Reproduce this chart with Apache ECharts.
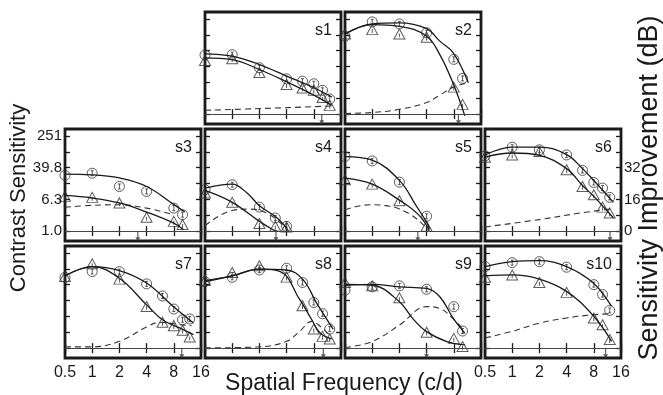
<!DOCTYPE html>
<html>
<head>
<meta charset="utf-8">
<script src="https://cdn.jsdelivr.net/npm/echarts@6/dist/echarts.min.js"></script>
<style>
html, body { margin: 0; background: #fff; }
#chart { width: 663px; height: 395px; }
</style>
</head>
<body>
<div id="chart"></div>
<script>
// panel names, reading order
const panels = ["s1", "s2", "s3", "s4", "s5", "s6", "s7", "s8", "s9", "s10"];

// tick positions / labels (dB re 1.0)
const dbTicks = [0, 8, 16, 24, 32, 40, 48];
const leftTickDb = [0, 16, 32, 48];
const leftTickText = ["1.0", "6.3", "39.8", "251"];
const rightTickDb = [0, 16, 32];

// measured points: [spatial freq c/d, dB]
const s1Circle = [[0.5, 29.8], [1, 30], [2, 23.4], [4, 17.8], [6, 16.6], [8, 15.3], [10, 12], [12, 7.6]];
const s1Tri = [[0.5, 27], [1, 27.9], [2, 21], [4, 14.9], [6, 13.2], [8, 12], [10, 8.4], [12, 4.4]];
const s2Circle = [[0.5, 39.3], [1, 46.5], [2, 45.5], [4, 41], [8, 27.6], [10, 18]];
const s2Tri = [[0.5, 40.4], [1, 42.6], [2, 40.4], [4, 38.8], [8, 13.6], [10, 4.9]];
const s3Circle = [[0.5, 28.1], [1, 29.2], [2, 22.5], [4, 20], [8, 11.6], [10, 8.3]];
const s3Tri = [[0.5, 17.5], [1, 17], [2, 14.2], [4, 7], [8, 4.9], [10, 3.3]];
const s4Circle = [[0.5, 20.9], [1, 23.4], [2, 12.1], [3, 6.6], [4, 2.4]];
const s4Tri = [[0.5, 19.2], [1, 14.5], [2, 3.8], [3, 2.4], [4, 2.1]];
const s5Circle = [[0.5, 37.6], [1, 35.4], [2, 24.7], [4, 7.5]];
const s5Tri = [[0.5, 25.9], [1, 23.7], [2, 15.3], [4, 2.4]];
const s6Circle = [[0.5, 37.9], [1, 42.3], [2, 41], [4, 38.4], [6, 30.6], [8, 24.5], [10, 21.7], [12, 17]];
const s6Tri = [[0.5, 37.3], [1, 38.4], [2, 40.1], [4, 30.9], [6, 22.5], [8, 18.3], [10, 12.1], [12, 9.1]];
const s7Circle = [[0.5, 35.7], [1, 38.6], [2, 38.6], [4, 32.4], [6, 26.3], [8, 19.7], [10, 14.3], [12, 14.7]];
const s7Tri = [[0.5, 36.1], [1, 42.5], [2, 34.8], [4, 21], [6, 13], [8, 11.3], [10, 9], [12, 5.6]];
const s8Circle = [[0.5, 33.5], [1, 35.7], [2, 39.4], [4, 40.3], [6, 33.1], [8, 23], [10, 17.3], [12, 9.6]];
const s8Tri = [[0.5, 34.1], [1, 38.1], [2, 41.5], [4, 35.8], [6, 21.4], [8, 9.6], [10, 5.9], [12, 4.6]];
const s9Circle = [[0.5, 29.2], [1, 30.9], [2, 31.4], [4, 29.7], [8, 20.9], [10, 8.6]];
const s9Tri = [[0.5, 33.1], [1, 31.4], [2, 25.4], [4, 8], [8, 4.9], [10, 0.8]];
const s10Circle = [[0.5, 41.1], [1, 43.1], [2, 43.6], [4, 40.8], [8, 32], [10, 27], [12, 19]];
const s10Tri = [[0.5, 35.7], [1, 36.9], [2, 33.1], [4, 28.1], [8, 15.2], [10, 11.8], [12, 4.3]];

// fitted curves
const s1Hi = [[0.5, 30.4], [1, 29.2], [2, 25], [4, 19.2], [8, 13.3], [12.7, 8.6]];
const s1Lo = [[0.5, 28.4], [1, 27.5], [2, 22.5], [4, 16.3], [8, 9.6], [12.7, 4.4]];
const s1Gain = [[0.5, 1.9], [2.4, 2.9], [13, 4.1]];
const s2Hi = [[0.5, 40.4], [1, 45.5], [2, 46], [4, 43.1], [5.6, 36.8], [7.9, 30.9], [11.6, 15.8]];
const s2Lo = [[0.5, 40.4], [1, 45.1], [2, 44.3], [4, 39.3], [5.6, 30], [7.9, 15.3], [10.6, -0.9]];
const s2Gain = [[0.5, 0.3], [1, 0.8], [2, 2.4], [4, 5.8], [5.6, 9.6], [7.9, 13.6], [11.6, 15.8]];
const s3Hi = [[0.5, 28.7], [1, 28.4], [2, 26.8], [4, 22.5], [7.9, 13.6], [10.6, 9.6]];
const s3Lo = [[0.5, 18], [1, 16.7], [2, 14.2], [4, 9.6], [7.9, 4.1], [10.2, 0.8]];
const s3Gain = [[0.5, 12], [1, 13], [2, 13.3], [4, 11.6], [7.4, 8.6]];
const s4Hi = [[0.5, 21.7], [1, 23.7], [1.46, 19.2], [2, 12.8], [3.05, 7.1], [4, 1.6]];
const s4Lo = [[0.5, 20.5], [1, 14.5], [2, 4.9], [2.8, 0.8], [3.2, -0.2]];
const s4Gain = [[0.5, 2.8], [1, 10.4], [1.57, 11.1], [2.4, 9.1], [3.7, 2.8], [4.2, 0]];
const s5Hi = [[0.5, 37.6], [1, 35.8], [2, 25.6], [3.05, 13], [4, 4.5], [4.3, 1.2]];
const s5Lo = [[0.5, 26.7], [1, 23.7], [2, 15.6], [3.25, 8.3], [4.3, 0.3]];
const s5Gain = [[0.5, 10.8], [0.94, 13.3], [1.57, 12.5], [2.6, 8.6], [3.85, 2.4], [4.2, 0.3]];
const s6Hi = [[0.5, 38.4], [1, 42.4], [2, 42.4], [4, 38.6], [6, 31.5], [8, 25.5], [13.2, 14.5]];
const s6Lo = [[0.5, 37.3], [1, 39.4], [2, 38.2], [4, 31.5], [6, 23], [8, 17.5], [13.2, 6.6]];
const s6Gain = [[0.5, 2.1], [2, 5.8], [5.6, 9.1], [12, 11.1]];
const s7Hi = [[0.5, 36.4], [1, 41.1], [2, 39.1], [4, 32.8], [7.9, 21], [13.2, 12.6]];
const s7Lo = [[0.5, 36.4], [1, 41.1], [2, 35.2], [4, 21.8], [6.1, 14], [9.4, 10.1], [13.2, 6.8]];
const s7Gain = [[0.5, 0.6], [1, 0.6], [2, 3.4], [4, 10.6], [5.6, 13], [9.4, 11.8], [12.6, 11.3]];
const s8Hi = [[0.5, 33.5], [1, 36.4], [2, 39.8], [4, 39.4], [6.1, 34.4], [8.6, 22.7], [13.1, 9.6]];
const s8Lo = [[0.5, 34], [1, 36.4], [2, 39.8], [3.4, 38.6], [5.6, 24.4], [7.6, 14.3], [9.4, 7.6], [12.6, 4.6]];
const s8Gain = [[0.5, 0.1], [2, 0.6], [4, 3.4], [5.6, 8.5], [7.6, 13.5], [9.4, 11], [12.6, 5.6]];
const s9Hi = [[0.5, 31.7], [1, 32.1], [2, 30.9], [4, 30.1], [5.6, 25.9], [7.9, 15], [10.6, 7.5]];
const s9Lo = [[0.5, 32.1], [1, 31.7], [2, 23.4], [2.8, 15], [4, 8.3], [6.7, 3.3], [10.6, 1.6]];
const s9Gain = [[0.5, 0.3], [1, 3.3], [2, 11.6], [4, 20.9], [5.6, 20], [7.9, 14.7], [10.1, 9.6]];
const s10Hi = [[0.5, 41.1], [1, 43.6], [2, 44.1], [4, 41.1], [7.9, 32.8], [12.6, 21]];
const s10Lo = [[0.5, 36.4], [1, 36.9], [2, 34.8], [4, 28.6], [7.9, 16.3], [12.6, 3.4]];
const s10Gain = [[0.5, 5.1], [1, 8.5], [2, 12.6], [4, 15.2], [7.9, 16.8], [12.3, 17.3]];

// cutoff arrows at the bottom of each panel (c/d)
const arrowFreq = [9.8, 9.0, 3.2, 3.05, 3.2, 12.1, 9.8, 10.2, 4.0, 10.8];

const circles = [s1Circle, s2Circle, s3Circle, s4Circle, s5Circle, s6Circle, s7Circle, s8Circle, s9Circle, s10Circle];
const tris = [s1Tri, s2Tri, s3Tri, s4Tri, s5Tri, s6Tri, s7Tri, s8Tri, s9Tri, s10Tri];
const his = [s1Hi, s2Hi, s3Hi, s4Hi, s5Hi, s6Hi, s7Hi, s8Hi, s9Hi, s10Hi];
const los = [s1Lo, s2Lo, s3Lo, s4Lo, s5Lo, s6Lo, s7Lo, s8Lo, s9Lo, s10Lo];
const gains = [s1Gain, s2Gain, s3Gain, s4Gain, s5Gain, s6Gain, s7Gain, s8Gain, s9Gain, s10Gain];

// layout
const FONT = "Liberation Sans, Arial, sans-serif";
const colLeft = [65, 205, 345, 485];
const rowTop = [12, 129, 246];
const panelCol = [1, 2, 0, 1, 2, 3, 0, 1, 2, 3];
const panelRow = [0, 0, 1, 1, 1, 1, 2, 2, 2, 2];
const PW = 136, PH = 112;
const INK = "#1a1a1a";

// marker shapes: open circle / triangle with a small error bar inside
const circleSym = "path://M0,-10A10,10,0,1,1,0,10A10,10,0,1,1,0,-10ZM0,-5L0,5M-3,-5L3,-5M-3,5L3,5";
const triSym = "path://M0,-11L10,7L-10,7ZM0,-3L0,4";
const arrowSym = "path://M-0.6,-5L0.6,-5L0.6,1L2.5,1L0,5L-2.5,1L-0.6,1Z";

const tickStyle = { color: INK, width: 1.3 };

const grid = [], xAxis = [], yAxis = [], series = [], title = [];

panels.forEach((name, i) => {
	const left = colLeft[panelCol[i]];
	const top = rowTop[panelRow[i]];
	grid.push({
		left, top, width: PW, height: PH,
		show: true, borderColor: INK, borderWidth: 2.8,
		backgroundColor: "transparent",
	});
	title.push({
		text: name,
		right: 663 - (left + PW) + 9,
		top: top + 11,
		padding: 0,
		textStyle: { fontSize: 16, fontWeight: "normal", color: INK, fontFamily: FONT },
	});

	// bottom + top frequency axes (ticks only, labels under s7 and s10)
	["bottom", "top"].forEach((pos) => {
		xAxis.push({
			type: "log", logBase: 2, gridIndex: i, position: pos,
			min: 0.5, max: 16,
			axisLine: { show: false },
			splitLine: { show: false },
			axisTick: { inside: true, length: 5, lineStyle: tickStyle },
			axisLabel: {
				show: pos === "bottom" && (i === 6 || i === 9),
				fontSize: 16, color: INK, fontFamily: FONT, margin: 7,
				formatter: (v) => String(v),
			},
		});
	});

	// left: contrast sensitivity (labelled on s3); right: improvement dB (labelled on s6)
	["left", "right"].forEach((pos) => {
		const isLeft = pos === "left";
		yAxis.push({
			type: "value", gridIndex: i, position: pos,
			min: -5, max: 51.5,
			axisLine: { show: false },
			splitLine: { show: false },
			axisTick: { inside: true, length: 5, customValues: dbTicks, lineStyle: tickStyle },
			axisLabel: {
				show: isLeft ? i === 2 : i === 5,
				customValues: isLeft ? leftTickDb : rightTickDb,
				formatter: (v) => isLeft ? leftTickText[leftTickDb.indexOf(v)] : String(v),
				fontSize: 15, color: INK, fontFamily: FONT, margin: 3,
			},
		});
	});

	const ax = { xAxisIndex: 2 * i, yAxisIndex: 2 * i };
	series.push({
		...ax, type: "line", data: gains[i], smooth: 0.4, symbol: "none",
		lineStyle: { color: "#333", width: 1.1, type: [6, 4] },
		markLine: {
			silent: true, symbol: "none", label: { show: false },
			lineStyle: { color: "#444", width: 1, type: "solid" },
			data: [{ yAxis: 0 }],
		},
	});
	[his[i], los[i]].forEach((d) => {
		series.push({
			...ax, type: "line", data: d, smooth: 0.4, symbol: "none",
			lineStyle: { color: INK, width: 1.3 },
		});
	});
	series.push({
		...ax, type: "scatter", data: circles[i], symbol: circleSym, symbolSize: 10,
		itemStyle: { color: "rgba(0,0,0,0)", borderColor: "#333", borderWidth: 1 },
	});
	series.push({
		...ax, type: "scatter", data: tris[i], symbol: triSym, symbolSize: [11, 10],
		itemStyle: { color: "rgba(0,0,0,0)", borderColor: "#333", borderWidth: 1 },
	});
	series.push({
		...ax, type: "scatter", data: [[arrowFreq[i], -2.6]], symbol: arrowSym, symbolSize: [5, 10],
		itemStyle: { color: "#333" },
	});
});

const chart = echarts.init(document.getElementById("chart"), null, { renderer: "canvas" });
chart.setOption({
	animation: false,
	backgroundColor: "#fff",
	title,
	grid,
	xAxis,
	yAxis,
	series,
	graphic: [
		{
			type: "text", x: 19, y: 198, rotation: Math.PI / 2,
			style: { text: "Contrast Sensitivity", fill: INK, font: `22px ${FONT}`, align: "center", verticalAlign: "middle" },
		},
		{
			type: "text", x: 650, y: 188, rotation: Math.PI / 2,
			style: { text: "Sensitivity Improvement (dB)", fill: INK, font: `27px ${FONT}`, align: "center", verticalAlign: "middle" },
		},
		{
			type: "text", x: 344, y: 384,
			style: { text: "Spatial Frequency (c/d)", fill: INK, font: `23px ${FONT}`, align: "center", verticalAlign: "middle" },
		},
	],
});
</script>
</body>
</html>
